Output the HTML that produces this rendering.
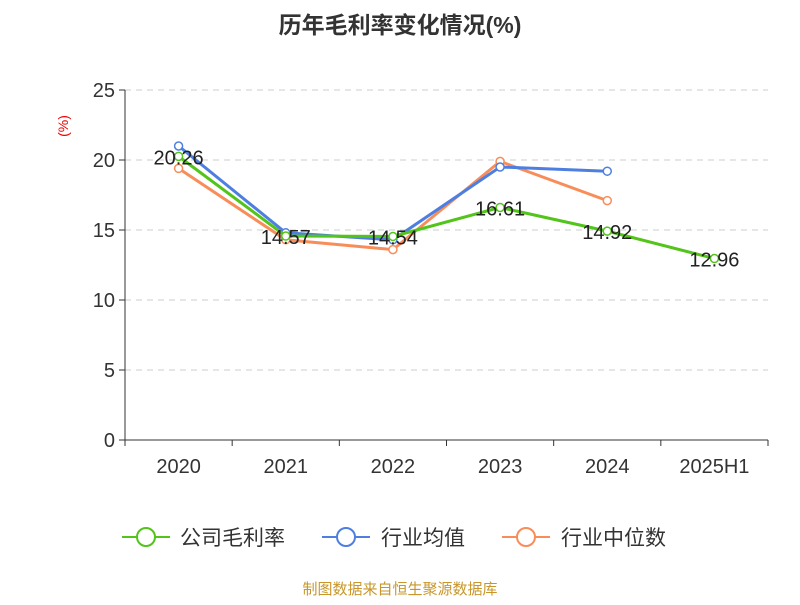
<!DOCTYPE html>
<html><head><meta charset="utf-8"><style>
body{margin:0;background:#fff;}
svg text{font-family:"Liberation Sans","Noto Sans CJK SC",sans-serif;}
</style></head><body>
<svg width="800" height="600" xmlns="http://www.w3.org/2000/svg" id="c">
<text x="400" y="33" text-anchor="middle" font-size="23" font-weight="bold" fill="#333">历年毛利率变化情况(%)</text>
<text x="68" y="126" text-anchor="middle" font-size="14" fill="#e00" transform="rotate(-90 68 126)">(%)</text>
<g id="grid"></g><g id="axes"></g><g id="series"></g>
<g>
<g><line x1="122" y1="537" x2="170" y2="537" stroke="#52c41a" stroke-width="2"/><circle cx="146" cy="537" r="9" fill="#fff" stroke="#52c41a" stroke-width="2"/><text x="180" y="545" font-size="21" fill="#333">公司毛利率</text></g>
<g><line x1="322" y1="537" x2="370" y2="537" stroke="#4e7fe0" stroke-width="2"/><circle cx="346" cy="537" r="9" fill="#fff" stroke="#4e7fe0" stroke-width="2"/><text x="381" y="545" font-size="21" fill="#333">行业均值</text></g>
<g><line x1="502" y1="537" x2="550" y2="537" stroke="#f98d5a" stroke-width="2"/><circle cx="526" cy="537" r="9" fill="#fff" stroke="#f98d5a" stroke-width="2"/><text x="561" y="545" font-size="21" fill="#333">行业中位数</text></g>
</g>
<text x="400" y="594" text-anchor="middle" font-size="15" fill="#c8962a">制图数据来自恒生聚源数据库</text>
</svg>
<script>
const categories=["2020","2021","2022","2023","2024","2025H1"];
const companyValues=[20.26,14.57,14.54,16.61,14.92,12.96];
const avgValues=[21.0,14.8,14.3,19.5,19.2,null];
const medianValues=[19.4,14.3,13.6,19.9,17.1,null];
const yTicks=[0,5,10,15,20,25];
const NS="http://www.w3.org/2000/svg";
const x0=125,x1=768,yB=440,yT=90,yMax=25;
const bw=(x1-x0)/categories.length;
const xs=i=>x0+bw*(i+0.5);
const ys=v=>yB-(v/yMax)*(yB-yT);
function mk(t,a,p){const e=document.createElementNS(NS,t);for(const k in a)e.setAttribute(k,a[k]);p.appendChild(e);return e;}
const grid=document.getElementById('grid'),axes=document.getElementById('axes'),ser=document.getElementById('series');
yTicks.forEach(v=>{
 if(v>0){const l=mk('line',{x1:x0,x2:x1,y1:ys(v),y2:ys(v),stroke:'#ccc','stroke-dasharray':'6,5'},grid);
 }
 const tk=mk('line',{x1:x0-6,x2:x0,y1:ys(v),y2:ys(v),stroke:'#333'},axes);
 
 const t=mk('text',{x:x0-10,y:ys(v)+7,'text-anchor':'end','font-size':20,fill:'#333'},axes);t.textContent=v;
 
});
const ya=mk('line',{x1:x0,x2:x0,y1:yT,y2:yB,stroke:'#333'},axes);

const xa=mk('line',{x1:x0,x2:x1,y1:yB,y2:yB,stroke:'#333'},axes);

for(let i=0;i<=categories.length;i++){const tk=mk('line',{x1:x0+bw*i,x2:x0+bw*i,y1:yB,y2:yB+6,stroke:'#333'},axes);
 }
categories.forEach((c,i)=>{const t=mk('text',{x:xs(i),y:yB+33,'text-anchor':'middle','font-size':20,fill:'#333'},axes);t.textContent=c;
 });
function draw(vals,color,name,labels){
 const pts=vals.map((v,i)=>v==null?null:[xs(i),ys(v)]).filter(p=>p);
 const pl=mk('polyline',{points:pts.map(p=>p.join(',')).join(' '),fill:'none',stroke:color,'stroke-width':3},ser);
 
 vals.forEach((v,i)=>{if(v==null)return;
  const c=mk('circle',{cx:xs(i),cy:ys(v),r:4,fill:'#fff',stroke:color,'stroke-width':1.5},ser);
  
  if(labels){const t=mk('text',{x:xs(i),y:ys(v)+8,'text-anchor':'middle','font-size':20,fill:'#222'},ser);t.textContent=v.toFixed(2);
   }
 });
}
draw(medianValues,'#f98d5a','industry-median',false);
draw(avgValues,'#4e7fe0','industry-avg',false);
draw(companyValues,'#52c41a','company',true);
</script>
</body></html>
